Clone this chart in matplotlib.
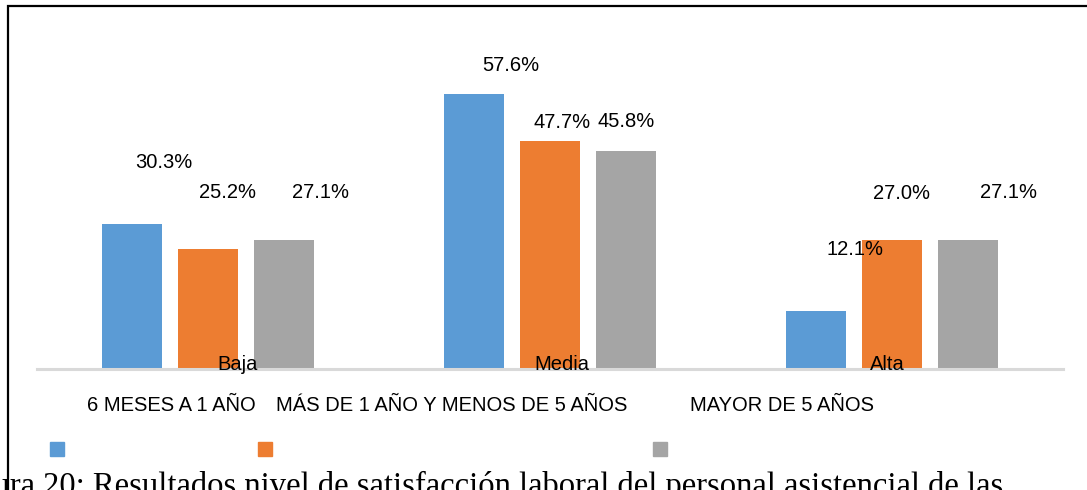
import matplotlib.pyplot as plt
from matplotlib.patches import Rectangle

niveles = ['Baja', 'Media', 'Alta']
series = ['6 MESES A 1 AÑO', 'MÁS DE 1 AÑO Y MENOS DE 5 AÑOS', 'MAYOR DE 5 AÑOS']
seis_meses = [30.3, 57.6, 12.1]
uno_a_cinco = [25.2, 47.7, 27.0]
mayor_cinco = [27.1, 45.8, 27.1]
caption = ('Figura 20: Resultados nivel de satisfacción laboral del personal '
           'asistencial de las')

colors = ['#5b9bd5', '#ed7d31', '#a5a5a5']
# hand-placed label offsets (pixels) from each bar top, as in the source
label_off = [
    [(32, 62), (37, 29), (39, 62)],
    [(20, 56), (12, 19), (10, 47)],
    [(37, 47), (0, 29), (41, 47)],
]
cat_dx = [0.085, 0.034, -0.015]

plt.rcParams['font.family'] = ['Liberation Sans', 'DejaVu Sans']

W, H = 1087, 490
fig = plt.figure(figsize=(W / 100, H / 100), dpi=100)

# axes placed so that baseline sits at y=369 px, spanning x 37..1063 px
ax = fig.add_axes([37 / W, (H - 369) / H, 1026 / W, 349 / H])
ax.set_xlim(-0.5, 2.5)
ax.set_ylim(0, 349 / 4.77)

width = 0.175
step = 0.222
for k, vals in enumerate([seis_meses, uno_a_cinco, mayor_cinco]):
    xs = [i + (k - 1) * step for i in range(len(niveles))]
    bars = ax.bar(xs, vals, width=width, color=colors[k], zorder=2)
    for j, b in enumerate(bars):
        dx, dy = label_off[k][j]
        ax.annotate('{:.1f}%'.format(vals[j]),
                    (b.get_x() + b.get_width() / 2, b.get_height()),
                    xytext=(dx, dy), textcoords='offset pixels',
                    ha='center', va='center', fontsize=14.5, color='#000000')

for i, name in enumerate(niveles):
    ax.text(i + cat_dx[i], 0.014, name, transform=ax.get_xaxis_transform(),
            ha='center', va='center', fontsize=14.5, zorder=3)

for s in ['top', 'right', 'left']:
    ax.spines[s].set_visible(False)
ax.spines['bottom'].set_color('#d9d9d9')
ax.spines['bottom'].set_linewidth(2.2)
ax.set_xticks([])
ax.set_yticks([])
ax.patch.set_alpha(0)

# scattered legend: texts on one row, markers on the next
leg_text_x = [87, 276, 690]
leg_mark_x = [50, 258, 653]
for k in range(3):
    fig.text(leg_text_x[k] / W, 1 - 405 / H, series[k], ha='left', va='center',
             fontsize=14.5)
    fig.patches.append(Rectangle((leg_mark_x[k] / W, 1 - 456 / H), 14 / W, 14 / H,
                                 transform=fig.transFigure, color=colors[k]))

# outer frame of the chart object
fig.patches.append(Rectangle((8 / W, -0.2), 1.2, 1.2 - 6 / H,
                             transform=fig.transFigure, fill=False,
                             edgecolor='#000000', linewidth=1.6))

# document caption below the chart, cut by the page crop like the source
fig.text(1003 / W, 1 - 495 / H, caption, ha='right', va='baseline',
         fontsize=23.5, family=['Liberation Serif'], color='#000000')

fig.savefig('out.png', dpi=100)
